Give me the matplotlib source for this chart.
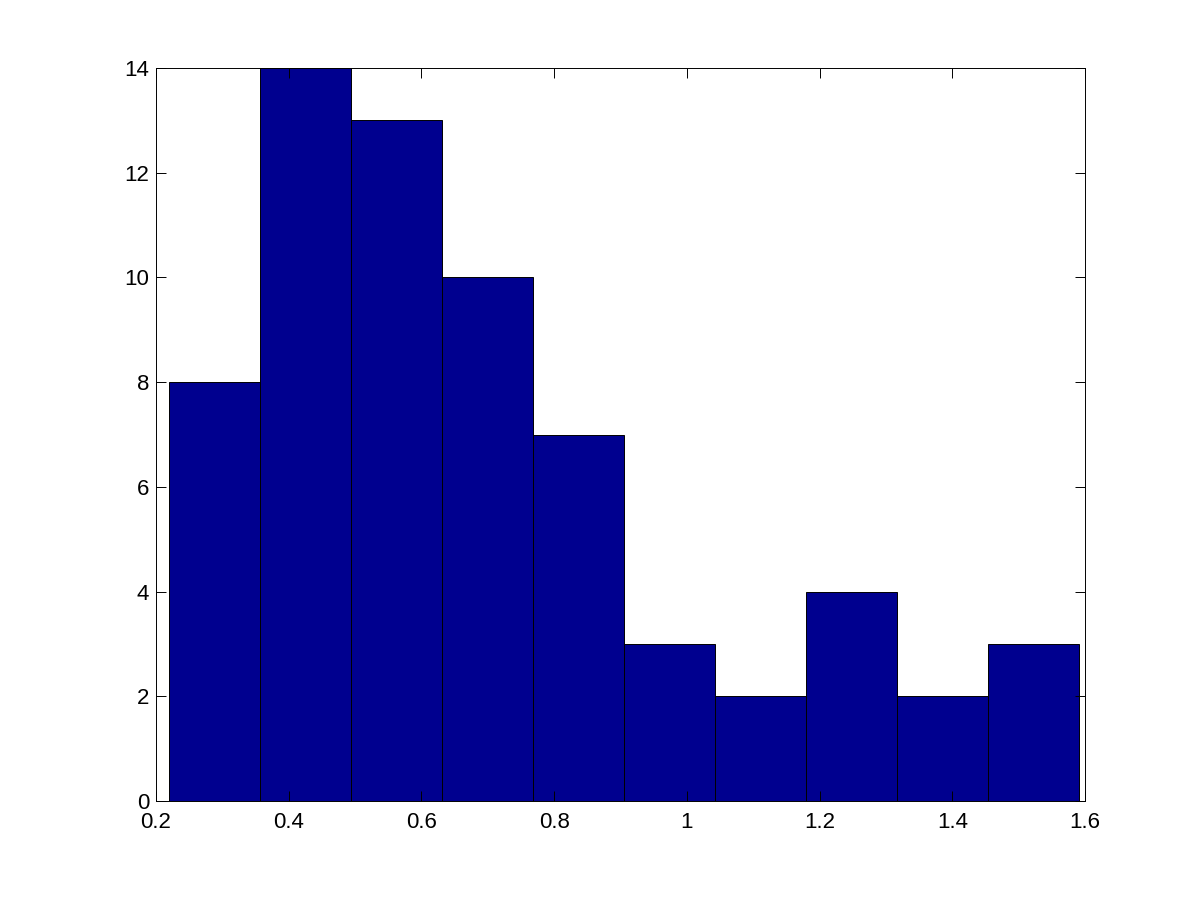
import numpy as np
import matplotlib
matplotlib.use("Agg")
import matplotlib.pyplot as plt
from matplotlib.ticker import FuncFormatter

plt.rcParams['font.family'] = ['Liberation Sans', 'DejaVu Sans']

bin_start = 0.2196
bin_width = 0.13714
counts = [8, 14, 13, 10, 7, 3, 2, 4, 2, 3]
edges = [bin_start + i * bin_width for i in range(len(counts) + 1)]

fig = plt.figure(figsize=(12, 9), dpi=100)
ax = fig.add_axes([0.13, 0.11, 0.7742, 0.8144])
ax.bar(edges[:-1], counts, width=np.diff(edges), align='edge',
       color='#00008F', edgecolor='black', linewidth=0.7)
ax.set_xlim(0.2, 1.6)
ax.set_ylim(0, 14)
ax.set_xticks(np.arange(0.2, 1.61, 0.2))
ax.set_yticks(np.arange(0, 15, 2))
ax.xaxis.set_major_formatter(FuncFormatter(lambda v, p: f"{v:g}"))
ax.tick_params(direction='in', top=True, right=True, labelsize=16, length=7, width=0.7)
ax.tick_params(axis='x', pad=8)
ax.tick_params(axis='y', pad=5)
for s in ax.spines.values():
    s.set_linewidth(0.7)
fig.savefig("out.png", dpi=100)
